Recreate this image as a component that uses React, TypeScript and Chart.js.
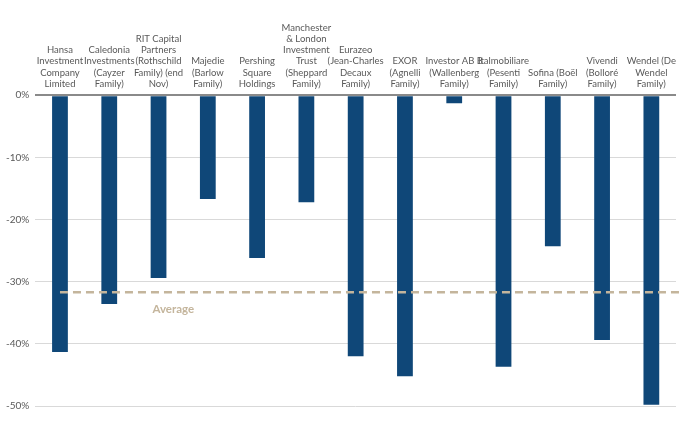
import React, { useEffect, useRef } from "react";
import { Chart, registerables } from "chart.js";

Chart.register(...registerables);

const categories: string[][] = [
  ["Hansa", "Investment", "Company", "Limited"],
  ["Caledonia", "Investments", "(Cayzer", "Family)"],
  ["RIT Capital", "Partners", "(Rothschild", "Family) (end", "Nov)"],
  ["Majedie", "(Barlow", "Family)"],
  ["Pershing", "Square", "Holdings"],
  ["Manchester", "& London", "Investment", "Trust", "(Sheppard", "Family)"],
  ["Eurazeo", "(Jean-Charles", "Decaux", "Family)"],
  ["EXOR", "(Agnelli", "Family)"],
  ["Investor AB B", "(Wallenberg", "Family)"],
  ["Italmobiliare", "(Pesenti", "Family)"],
  ["Sofina (Boël", "Family)"],
  ["Vivendi", "(Bolloré", "Family)"],
  ["Wendel (De", "Wendel", "Family)"],
];

const discountValues: number[] = [
  -41.3, -33.6, -29.4, -16.7, -26.2, -17.2, -42.0, -45.2, -1.3, -43.7, -24.3, -39.4, -49.8,
];

const averageValue = -31.7;
const averageLabel = "Average";
const yTicks: number[] = [0, -10, -20, -30, -40, -50];

const FONT = "Lato, 'Liberation Sans', sans-serif";

export default function App() {
  const ref = useRef<HTMLCanvasElement | null>(null);

  useEffect(() => {
    if (!ref.current) return;
    const avgPlugin = {
      id: "avgLine",
      afterDatasetsDraw(chart: any) {
        const { ctx, chartArea, scales } = chart;
        const y = scales.y.getPixelForValue(averageValue);
        const x0 = scales.x.getPixelForValue(0);
        ctx.save();
        ctx.strokeStyle = "#c4b59c";
        ctx.lineWidth = 2.5;
        ctx.setLineDash([8, 5]);
        ctx.beginPath();
        ctx.moveTo(x0, y);
        ctx.lineTo(chartArea.right + 4, y);
        ctx.stroke();
        ctx.setLineDash([]);
        ctx.fillStyle = "#c4b59c";
        ctx.font = `bold 11.5px ${FONT}`;
        ctx.textAlign = "center";
        ctx.textBaseline = "middle";
        const xl = scales.x.getPixelForValue(2.3);
        ctx.fillText(averageLabel, xl, y + 17);
        ctx.restore();
      },
    };
    const chart = new Chart(ref.current, {
      type: "bar",
      data: {
        labels: categories,
        datasets: [
          {
            data: discountValues,
            backgroundColor: "#0f4778",
            barPercentage: 0.64,
            categoryPercentage: 0.5,
          },
        ],
      },
      options: {
        animation: false,
        responsive: true,
        maintainAspectRatio: false,
        layout: { padding: { left: 0, right: 14, top: 16, bottom: 26 } },
        plugins: { legend: { display: false }, tooltip: { enabled: false } },
        scales: {
          x: {
            position: "top",
            grid: { display: false, drawTicks: false },
            border: { display: false },
            ticks: {
              color: "#595959",
              font: { family: FONT, size: 9.5, lineHeight: 1.18 },
              padding: 6,
              maxRotation: 0,
              autoSkip: false,
            },
          },
          y: {
            min: -50,
            max: 0,
            afterBuildTicks(axis: any) {
              axis.ticks = yTicks.map((v) => ({ value: v }));
            },
            grid: {
              color: (c: any) => (c.tick && c.tick.value === 0 ? "#8a8a8a" : "#d9d9d9"),
              lineWidth: (c: any) => (c.tick && c.tick.value === 0 ? 2 : 1),
              drawTicks: false,
            },
            border: { display: false },
            ticks: {
              color: "#595959",
              font: { family: FONT, size: 10 },
              padding: 6,
              callback: (v: any) => `${v}%`,
            },
          },
        },
      },
      plugins: [avgPlugin],
    });
    return () => chart.destroy();
  }, []);

  return (
    <div style={{ position: "fixed", left: 0, top: 0, width: 690, height: 432, background: "#fff" }}>
      <canvas ref={ref} />
    </div>
  );
}
